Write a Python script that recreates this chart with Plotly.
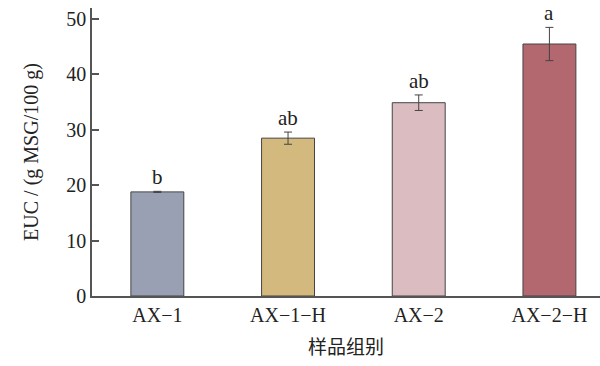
import plotly.graph_objects as go

# Sample groups, mean EUC and standard deviation
groups = ["AX−1", "AX−1−H", "AX−2", "AX−2−H"]
euc = [18.8, 28.5, 34.9, 45.5]
err = [0.1, 1.1, 1.4, 3.0]
letters = ["b", "ab", "ab", "a"]
colors = ["#9aa0b3", "#d4b97e", "#dbbcc1", "#b3676e"]

serif = "Liberation Serif, Times New Roman, serif"

fig = go.Figure(
    go.Bar(
        x=groups,
        y=euc,
        width=0.405,
        marker=dict(color=colors, line=dict(color="#444444", width=1)),
        error_y=dict(type="data", array=err, visible=True,
                     color="#444444", thickness=1, width=4),
        hoverinfo="skip",
    )
)

# Significance letters above each error bar
for g, v, e, t in zip(groups, euc, err, letters):
    fig.add_annotation(x=g, y=v + e, text=t, showarrow=False,
                       yanchor="bottom", yshift=0,
                       font=dict(family=serif, size=21, color="#222222"))

fig.update_layout(
    width=600, height=366,
    margin=dict(l=92, r=0, t=8, b=70),
    plot_bgcolor="white", paper_bgcolor="white",
    showlegend=False,
    font=dict(family=serif, size=20, color="#222222"),
    xaxis=dict(
        range=[-0.5, 3.387],
        showline=True, linecolor="#555555", linewidth=1.5,
        ticks="", showgrid=False, zeroline=False,
        tickfont=dict(family=serif, size=20),
        title=dict(text="样品组别", standoff=16,
                   font=dict(family="Noto Sans CJK SC", size=19)),
    ),
    yaxis=dict(
        range=[0, 52],
        tickvals=[0, 10, 20, 30, 40, 50],
        showline=True, linecolor="#555555", linewidth=1.5,
        ticks="inside", ticklen=7, tickcolor="#555555", tickwidth=1.5,
        showgrid=False, zeroline=False,
        tickfont=dict(family=serif, size=20),
        title=dict(text="EUC / (g MSG/100 g)", standoff=22,
                   font=dict(family=serif, size=20)),
    ),
)

fig.write_html("out.html")
